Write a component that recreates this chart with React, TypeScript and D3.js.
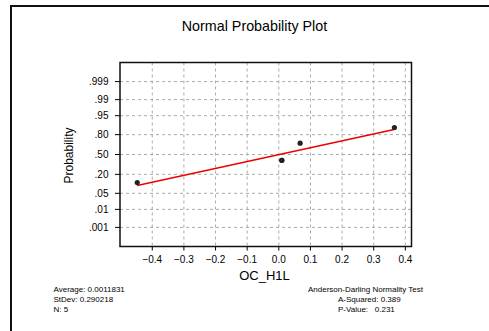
import React from "react";
import * as d3 from "d3";

const W = 489;
const H = 331;

const dataX = [-0.4475, 0.0095, 0.0095, 0.0675, 0.3655];
const dataP = [0.117, 0.402, 0.402, 0.685, 0.874];
const fitX = [-0.4475, 0.368];
const fitP = [0.0945, 0.858];
const probTicks = [0.001, 0.01, 0.05, 0.2, 0.5, 0.8, 0.95, 0.99, 0.999];
const probLabels = [".001", ".01", ".05", ".20", ".50", ".80", ".95", ".99", ".999"];
const xTicks = [-0.4, -0.3, -0.2, -0.1, 0.0, 0.1, 0.2, 0.3, 0.4];
const statsLeft = ["Average: 0.0011831", "StDev: 0.290218", "N: 5"];
const statsRight = ["Anderson-Darling Normality Test", "A-Squared: 0.389", "P-Value:   0.231"];

// inverse normal CDF (Acklam)
function probit(p: number): number {
  const a = [-3.969683028665376e1, 2.209460984245205e2, -2.759285104469687e2, 1.38357751867269e2, -3.066479806614716e1, 2.506628277459239];
  const b = [-5.447609879822406e1, 1.615858368580409e2, -1.556989798598866e2, 6.680131188771972e1, -1.328068155288572e1];
  const c = [-7.784894002430293e-3, -3.223964580411365e-1, -2.400758277161838, -2.549732539343734, 4.374664141464968, 2.938163982698783];
  const dd = [7.784695709041462e-3, 3.224671290700398e-1, 2.445134137142996, 3.754408661907416];
  const pl = 0.02425;
  let q, r;
  if (p < pl) {
    q = Math.sqrt(-2 * Math.log(p));
    return (((((c[0] * q + c[1]) * q + c[2]) * q + c[3]) * q + c[4]) * q + c[5]) / ((((dd[0] * q + dd[1]) * q + dd[2]) * q + dd[3]) * q + 1);
  } else if (p <= 1 - pl) {
    q = p - 0.5;
    r = q * q;
    return ((((((a[0] * r + a[1]) * r + a[2]) * r + a[3]) * r + a[4]) * r + a[5]) * q) / (((((b[0] * r + b[1]) * r + b[2]) * r + b[3]) * r + b[4]) * r + 1);
  } else {
    q = Math.sqrt(-2 * Math.log(1 - p));
    return -(((((c[0] * q + c[1]) * q + c[2]) * q + c[3]) * q + c[4]) * q + c[5]) / ((((dd[0] * q + dd[1]) * q + dd[2]) * q + dd[3]) * q + 1);
  }
}

const box = { left: 120, right: 411.5, top: 62.5, bottom: 246.5 };
const font = "Liberation Sans, Arial, sans-serif";

export default function App() {
  const x = d3.scaleLinear().domain([-0.502, 0.4195]).range([box.left, box.right]);
  const y = d3.scaleLinear().domain([-3.9, 3.9]).range([box.bottom, box.top]);
  const py = (p: number) => y(probit(p));
  const line = d3.line<number>().x((_, i) => x(fitX[i])).y((_, i) => py(fitP[i]));

  return (
    <svg width={W} height={H} style={{ position: "absolute", left: 0, top: 0, background: "#fff" }} fontFamily={font}>
      <rect x={0} y={0} width={W} height={H} fill="#fff" />
      <path d={`M11,${H} L11,6 L${W},6`} fill="none" stroke="#111" strokeWidth={2} />
      <text x={254.5} y={30.5} textAnchor="middle" fontSize={14.3} fill="#000">Normal Probability Plot</text>

      {probTicks.map((p, i) => (
        <g key={"py" + i}>
          <line x1={box.left} x2={box.right} y1={py(p)} y2={py(p)} stroke="#aaa" strokeDasharray="3,3" strokeWidth={1} />
          <line x1={box.left - 5} x2={box.left} y1={py(p)} y2={py(p)} stroke="#000" strokeWidth={1} />
          <text x={108.5} y={py(p) + 3.5} textAnchor="end" fontSize={10} fill="#000">{probLabels[i]}</text>
        </g>
      ))}
      {xTicks.map((v, i) => (
        <g key={"px" + i}>
          <line x1={x(v)} x2={x(v)} y1={box.top} y2={box.bottom} stroke="#aaa" strokeDasharray="3,3" strokeWidth={1} />
          <line x1={x(v)} x2={x(v)} y1={box.bottom} y2={box.bottom + 4} stroke="#000" strokeWidth={1} />
          <text x={x(v)} y={262.5} textAnchor="middle" fontSize={10} fill="#000">{d3.format(".1f")(v)}</text>
        </g>
      ))}
      <rect x={box.left} y={box.top} width={box.right - box.left} height={box.bottom - box.top} fill="none" stroke="#111" strokeWidth={1.5} />

      <path d={line(fitX) || ""} fill="none" stroke="#ee0000" strokeWidth={1.5} />
      {dataX.map((v, i) => (
        <circle key={"pt" + i} cx={x(v)} cy={py(dataP[i])} r={2.6} fill="#222" />
      ))}

      <text x={70} y={155.5} transform="rotate(-90 70 155.5)" textAnchor="middle" dominantBaseline="middle" fontSize={12} fill="#000">Probability</text>
      <text x={264.5} y={280} textAnchor="middle" fontSize={13} fill="#000">OC_H1L</text>

      {statsLeft.map((s, i) => (
        <text key={"sl" + i} x={53.5} y={291.5 + i * 10} fontSize={8} fill="#000">{s}</text>
      ))}
      {statsRight.map((s, i) => (
        <text key={"sr" + i} x={i === 0 ? 308 : 338} y={291.5 + i * 10} fontSize={8} fill="#000" style={{ whiteSpace: "pre" }}>{s}</text>
      ))}
    </svg>
  );
}
